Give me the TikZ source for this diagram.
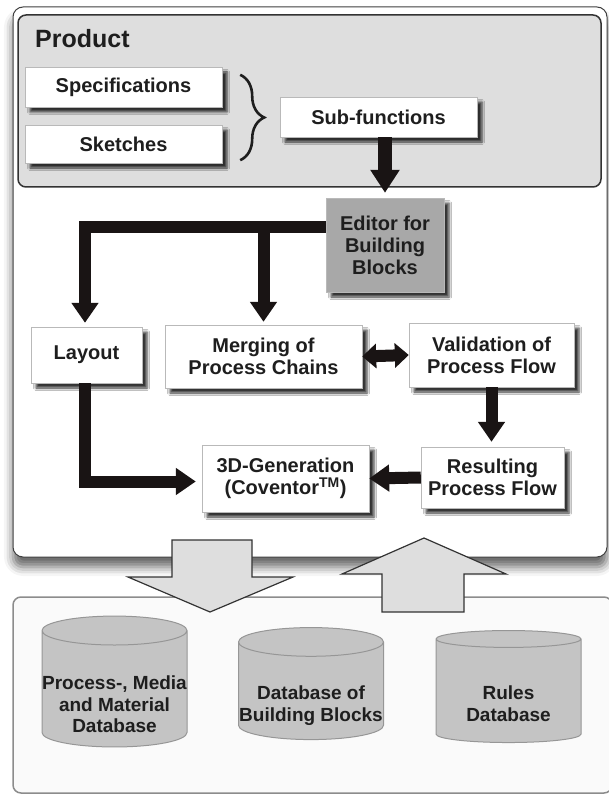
\documentclass[tikz,border=0pt]{standalone}
\usepackage{fontspec}
\setmainfont{Liberation Sans}
\usetikzlibrary{arrows.meta,shapes.geometric,shadows.blur,decorations.pathreplacing}

\begin{document}
\begin{tikzpicture}[x=1pt,y=-1pt,
    font=\fontsize{20}{22}\selectfont\bfseries,
    stepbox/.style={draw=boxline, fill=white, align=center, inner sep=0pt, text=textcolor,
        blur shadow={shadow xshift=5pt, shadow yshift=-5pt, shadow blur radius=2.5pt, shadow opacity=80}},
    fatarrow/.style={line width=12pt, draw=arrowcolor, line join=miter, -{Triangle[width=26pt,length=20pt]}},
    dbcyl/.style={cylinder, shape border rotate=90, aspect=0.2, draw=cylline, line width=1pt,
        fill=cylcolor, align=center, inner sep=0pt, text=textcolor,
        minimum width=145pt, minimum height=112pt, font=\fontsize{19}{21.5}\selectfont\bfseries},
    bigarrow/.style={fill=hollowcolor, draw=black!80, line width=1.2pt, line join=miter}]

    % Define colors
    \definecolor{textcolor}{RGB}{30, 30, 30}     % Near black
    \definecolor{boxline}{RGB}{185, 185, 185}    % Light grey
    \definecolor{arrowcolor}{RGB}{25, 20, 20}    % Black
    \definecolor{productcolor}{RGB}{222, 222, 222} % Grey
    \definecolor{editcolor}{RGB}{168, 168, 168}  % Mid grey
    \definecolor{cylcolor}{RGB}{196, 196, 196}   % Cylinder grey
    \definecolor{cylline}{RGB}{150, 150, 150}
    \definecolor{hollowcolor}{RGB}{222, 222, 222}
    \definecolor{dbpanelcolor}{RGB}{250, 250, 250}

    \useasboundingbox (0,0) rectangle (608,794);

    % Panels
    \node[draw=black!75, fill=white, line width=1pt, rounded corners=10pt, minimum width=594pt, minimum height=550pt,
        blur shadow={shadow xshift=0pt, shadow yshift=-10pt, shadow blur radius=9pt, shadow opacity=60}] (app) at (310,282) {};
    \node[draw=black!80, fill=productcolor, line width=1.5pt, rounded corners=8pt, minimum width=583pt, minimum height=172pt] (product) at (309.5,101) {};
    \node[draw=black!45, fill=dbpanelcolor, line width=1.5pt, rounded corners=8pt, minimum width=599pt, minimum height=196pt] (dbpanel) at (312.5,695) {};
    \node[anchor=base west, inner sep=0pt, text=textcolor, font=\fontsize{25}{28}\selectfont\bfseries] (prodlabel) at (35,48) {Product};

    % Product inputs
    \node[stepbox, minimum width=197pt, minimum height=40pt] (spec) at (123.5,87) {Specifications};
    \node[stepbox, minimum width=197pt, minimum height=38pt] (sketch) at (123.5,144) {Sketches};
    \node[stepbox, minimum width=197pt, minimum height=40pt] (subf) at (378.5,117) {Sub-functions};
    \draw[textcolor, line width=2.6pt, decorate, decoration={brace, amplitude=24pt}]
        ([xshift=18pt, yshift=-8pt]spec.north east) -- ([xshift=18pt, yshift=3pt]sketch.south east);

    % Process steps
    \node[stepbox, fill=editcolor, minimum width=118pt, minimum height=94pt] (editor) at (385,245) {Editor for\\Building\\Blocks};
    \node[stepbox, minimum width=111pt, minimum height=56pt] (layout) at (86.5,355) {Layout};
    \node[stepbox, minimum width=197pt, minimum height=63pt] (merge) at (263.5,356.5) {Merging of\\Process Chains};
    \node[stepbox, minimum width=165pt, minimum height=64pt] (valid) at (491.5,355) {Validation of\\Process Flow};
    \node[stepbox, minimum width=167pt, minimum height=67pt] (gen3d) at (285.5,478.5) {3D-Generation\\(Coventor\textsuperscript{TM})};
    \node[stepbox, minimum width=143pt, minimum height=61pt] (result) at (492.5,477.5) {Resulting\\Process Flow};

    % Databases
    \node[dbcyl, text height=87pt, text depth=-8pt] (procdb) at (114.5,689) {Process-, Media\\and Material\\Database};
    \node[dbcyl, text height=60pt, text depth=-5.5pt] (blockdb) at (311,691) {Database of\\Building Blocks};
    \node[dbcyl, text height=60pt, text depth=-5.5pt] (rulesdb) at (508.5,691) {Rules\\Database};

    % Arrows between steps
    \draw[fatarrow, line width=14pt, -{Triangle[width=28pt,length=23pt]}, shorten >=5pt]
        (subf.south -| editor.north) -- (editor.north);
    \coordinate (split) at ([yshift=18pt]editor.west);
    \draw[fatarrow, shorten >=4pt] (split) -| ([xshift=-1.5pt]layout.north);
    \draw[fatarrow, shorten >=3pt] (split -| merge.north) -- (merge.north);
    \draw[fatarrow, {Triangle[width=24pt,length=14pt]}-{Triangle[width=24pt,length=14pt]}] (merge.east) -- (valid.west);
    \draw[fatarrow, shorten >=5pt] (valid.south) -- (valid.south |- result.north);
    \draw[fatarrow] (result.west) -- (gen3d.east);
    \draw[fatarrow, shorten >=6pt] ([xshift=-1.5pt]layout.south) |- ([yshift=-3pt]gen3d.west);

    % Exchange with databases
    \draw[bigarrow] (172,540) -- (252,540) -- (252,577) -- (293,577) -- (210,612) -- (128,577) -- (172,577) -- cycle;
    \draw[bigarrow] (382,612) -- (464,612) -- (464,574) -- (506,574) -- (424,538) -- (342,574) -- (382,574) -- cycle;
\end{tikzpicture}
\end{document}
